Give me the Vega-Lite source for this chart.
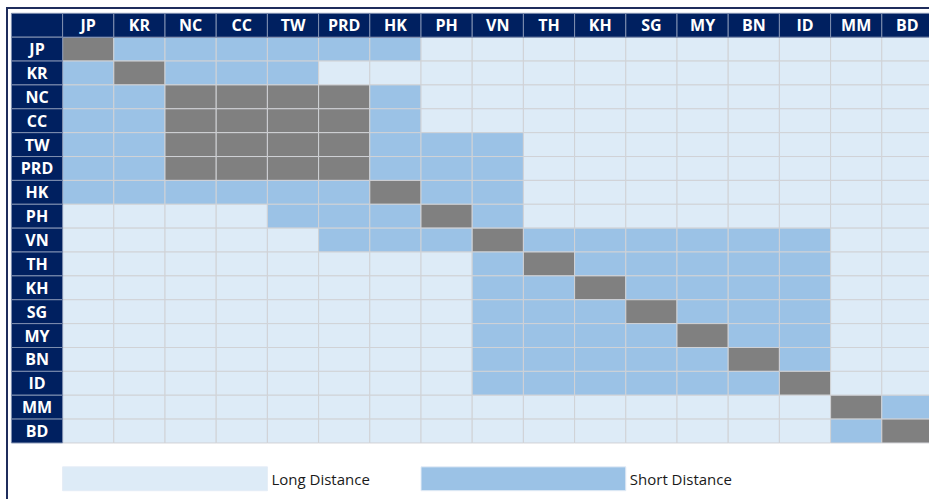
{
  "$schema": "https://vega.github.io/schema/vega-lite/v6.json",
  "width": 926,
  "height": 494,
  "autosize": {"type": "none"},
  "padding": {"left": 7, "top": 8, "right": -4, "bottom": -3},
  "background": "white",
  "config": {"view": {"stroke": "#1F2D5C", "strokeWidth": 2}},
  "datasets": {
    "headers": [
      {"row": "H", "col": "H", "label": ""},
      {"row": "H", "col": "JP", "label": "JP"},
      {"row": "H", "col": "KR", "label": "KR"},
      {"row": "H", "col": "NC", "label": "NC"},
      {"row": "H", "col": "CC", "label": "CC"},
      {"row": "H", "col": "TW", "label": "TW"},
      {"row": "H", "col": "PRD", "label": "PRD"},
      {"row": "H", "col": "HK", "label": "HK"},
      {"row": "H", "col": "PH", "label": "PH"},
      {"row": "H", "col": "VN", "label": "VN"},
      {"row": "H", "col": "TH", "label": "TH"},
      {"row": "H", "col": "KH", "label": "KH"},
      {"row": "H", "col": "SG", "label": "SG"},
      {"row": "H", "col": "MY", "label": "MY"},
      {"row": "H", "col": "BN", "label": "BN"},
      {"row": "H", "col": "ID", "label": "ID"},
      {"row": "H", "col": "MM", "label": "MM"},
      {"row": "H", "col": "BD", "label": "BD"},
      {"row": "JP", "col": "H", "label": "JP"},
      {"row": "KR", "col": "H", "label": "KR"},
      {"row": "NC", "col": "H", "label": "NC"},
      {"row": "CC", "col": "H", "label": "CC"},
      {"row": "TW", "col": "H", "label": "TW"},
      {"row": "PRD", "col": "H", "label": "PRD"},
      {"row": "HK", "col": "H", "label": "HK"},
      {"row": "PH", "col": "H", "label": "PH"},
      {"row": "VN", "col": "H", "label": "VN"},
      {"row": "TH", "col": "H", "label": "TH"},
      {"row": "KH", "col": "H", "label": "KH"},
      {"row": "SG", "col": "H", "label": "SG"},
      {"row": "MY", "col": "H", "label": "MY"},
      {"row": "BN", "col": "H", "label": "BN"},
      {"row": "ID", "col": "H", "label": "ID"},
      {"row": "MM", "col": "H", "label": "MM"},
      {"row": "BD", "col": "H", "label": "BD"}
    ],
    "legend": [
      {"label": "Long Distance", "type": "Long Distance", "start": "JP", "end": "TW", "row": "lg"},
      {"label": "Short Distance", "type": "Short Distance", "start": "PH", "end": "SG", "row": "lg"}
    ],
    "cells": [
      {"row":"JP","col":"JP","type":"Same"},{"row":"JP","col":"KR","type":"Short Distance"},{"row":"JP","col":"NC","type":"Short Distance"},{"row":"JP","col":"CC","type":"Short Distance"},{"row":"JP","col":"TW","type":"Short Distance"},{"row":"JP","col":"PRD","type":"Short Distance"},{"row":"JP","col":"HK","type":"Short Distance"},{"row":"JP","col":"PH","type":"Long Distance"},{"row":"JP","col":"VN","type":"Long Distance"},{"row":"JP","col":"TH","type":"Long Distance"},{"row":"JP","col":"KH","type":"Long Distance"},{"row":"JP","col":"SG","type":"Long Distance"},{"row":"JP","col":"MY","type":"Long Distance"},{"row":"JP","col":"BN","type":"Long Distance"},{"row":"JP","col":"ID","type":"Long Distance"},{"row":"JP","col":"MM","type":"Long Distance"},{"row":"JP","col":"BD","type":"Long Distance"},
      {"row":"KR","col":"JP","type":"Short Distance"},{"row":"KR","col":"KR","type":"Same"},{"row":"KR","col":"NC","type":"Short Distance"},{"row":"KR","col":"CC","type":"Short Distance"},{"row":"KR","col":"TW","type":"Short Distance"},{"row":"KR","col":"PRD","type":"Long Distance"},{"row":"KR","col":"HK","type":"Long Distance"},{"row":"KR","col":"PH","type":"Long Distance"},{"row":"KR","col":"VN","type":"Long Distance"},{"row":"KR","col":"TH","type":"Long Distance"},{"row":"KR","col":"KH","type":"Long Distance"},{"row":"KR","col":"SG","type":"Long Distance"},{"row":"KR","col":"MY","type":"Long Distance"},{"row":"KR","col":"BN","type":"Long Distance"},{"row":"KR","col":"ID","type":"Long Distance"},{"row":"KR","col":"MM","type":"Long Distance"},{"row":"KR","col":"BD","type":"Long Distance"},
      {"row":"NC","col":"JP","type":"Short Distance"},{"row":"NC","col":"KR","type":"Short Distance"},{"row":"NC","col":"NC","type":"Same"},{"row":"NC","col":"CC","type":"Same"},{"row":"NC","col":"TW","type":"Same"},{"row":"NC","col":"PRD","type":"Same"},{"row":"NC","col":"HK","type":"Short Distance"},{"row":"NC","col":"PH","type":"Long Distance"},{"row":"NC","col":"VN","type":"Long Distance"},{"row":"NC","col":"TH","type":"Long Distance"},{"row":"NC","col":"KH","type":"Long Distance"},{"row":"NC","col":"SG","type":"Long Distance"},{"row":"NC","col":"MY","type":"Long Distance"},{"row":"NC","col":"BN","type":"Long Distance"},{"row":"NC","col":"ID","type":"Long Distance"},{"row":"NC","col":"MM","type":"Long Distance"},{"row":"NC","col":"BD","type":"Long Distance"},
      {"row":"CC","col":"JP","type":"Short Distance"},{"row":"CC","col":"KR","type":"Short Distance"},{"row":"CC","col":"NC","type":"Same"},{"row":"CC","col":"CC","type":"Same"},{"row":"CC","col":"TW","type":"Same"},{"row":"CC","col":"PRD","type":"Same"},{"row":"CC","col":"HK","type":"Short Distance"},{"row":"CC","col":"PH","type":"Long Distance"},{"row":"CC","col":"VN","type":"Long Distance"},{"row":"CC","col":"TH","type":"Long Distance"},{"row":"CC","col":"KH","type":"Long Distance"},{"row":"CC","col":"SG","type":"Long Distance"},{"row":"CC","col":"MY","type":"Long Distance"},{"row":"CC","col":"BN","type":"Long Distance"},{"row":"CC","col":"ID","type":"Long Distance"},{"row":"CC","col":"MM","type":"Long Distance"},{"row":"CC","col":"BD","type":"Long Distance"},
      {"row":"TW","col":"JP","type":"Short Distance"},{"row":"TW","col":"KR","type":"Short Distance"},{"row":"TW","col":"NC","type":"Same"},{"row":"TW","col":"CC","type":"Same"},{"row":"TW","col":"TW","type":"Same"},{"row":"TW","col":"PRD","type":"Same"},{"row":"TW","col":"HK","type":"Short Distance"},{"row":"TW","col":"PH","type":"Short Distance"},{"row":"TW","col":"VN","type":"Short Distance"},{"row":"TW","col":"TH","type":"Long Distance"},{"row":"TW","col":"KH","type":"Long Distance"},{"row":"TW","col":"SG","type":"Long Distance"},{"row":"TW","col":"MY","type":"Long Distance"},{"row":"TW","col":"BN","type":"Long Distance"},{"row":"TW","col":"ID","type":"Long Distance"},{"row":"TW","col":"MM","type":"Long Distance"},{"row":"TW","col":"BD","type":"Long Distance"},
      {"row":"PRD","col":"JP","type":"Short Distance"},{"row":"PRD","col":"KR","type":"Short Distance"},{"row":"PRD","col":"NC","type":"Same"},{"row":"PRD","col":"CC","type":"Same"},{"row":"PRD","col":"TW","type":"Same"},{"row":"PRD","col":"PRD","type":"Same"},{"row":"PRD","col":"HK","type":"Short Distance"},{"row":"PRD","col":"PH","type":"Short Distance"},{"row":"PRD","col":"VN","type":"Short Distance"},{"row":"PRD","col":"TH","type":"Long Distance"},{"row":"PRD","col":"KH","type":"Long Distance"},{"row":"PRD","col":"SG","type":"Long Distance"},{"row":"PRD","col":"MY","type":"Long Distance"},{"row":"PRD","col":"BN","type":"Long Distance"},{"row":"PRD","col":"ID","type":"Long Distance"},{"row":"PRD","col":"MM","type":"Long Distance"},{"row":"PRD","col":"BD","type":"Long Distance"},
      {"row":"HK","col":"JP","type":"Short Distance"},{"row":"HK","col":"KR","type":"Short Distance"},{"row":"HK","col":"NC","type":"Short Distance"},{"row":"HK","col":"CC","type":"Short Distance"},{"row":"HK","col":"TW","type":"Short Distance"},{"row":"HK","col":"PRD","type":"Short Distance"},{"row":"HK","col":"HK","type":"Same"},{"row":"HK","col":"PH","type":"Short Distance"},{"row":"HK","col":"VN","type":"Short Distance"},{"row":"HK","col":"TH","type":"Long Distance"},{"row":"HK","col":"KH","type":"Long Distance"},{"row":"HK","col":"SG","type":"Long Distance"},{"row":"HK","col":"MY","type":"Long Distance"},{"row":"HK","col":"BN","type":"Long Distance"},{"row":"HK","col":"ID","type":"Long Distance"},{"row":"HK","col":"MM","type":"Long Distance"},{"row":"HK","col":"BD","type":"Long Distance"},
      {"row":"PH","col":"JP","type":"Long Distance"},{"row":"PH","col":"KR","type":"Long Distance"},{"row":"PH","col":"NC","type":"Long Distance"},{"row":"PH","col":"CC","type":"Long Distance"},{"row":"PH","col":"TW","type":"Short Distance"},{"row":"PH","col":"PRD","type":"Short Distance"},{"row":"PH","col":"HK","type":"Short Distance"},{"row":"PH","col":"PH","type":"Same"},{"row":"PH","col":"VN","type":"Short Distance"},{"row":"PH","col":"TH","type":"Long Distance"},{"row":"PH","col":"KH","type":"Long Distance"},{"row":"PH","col":"SG","type":"Long Distance"},{"row":"PH","col":"MY","type":"Long Distance"},{"row":"PH","col":"BN","type":"Long Distance"},{"row":"PH","col":"ID","type":"Long Distance"},{"row":"PH","col":"MM","type":"Long Distance"},{"row":"PH","col":"BD","type":"Long Distance"},
      {"row":"VN","col":"JP","type":"Long Distance"},{"row":"VN","col":"KR","type":"Long Distance"},{"row":"VN","col":"NC","type":"Long Distance"},{"row":"VN","col":"CC","type":"Long Distance"},{"row":"VN","col":"TW","type":"Long Distance"},{"row":"VN","col":"PRD","type":"Short Distance"},{"row":"VN","col":"HK","type":"Short Distance"},{"row":"VN","col":"PH","type":"Short Distance"},{"row":"VN","col":"VN","type":"Same"},{"row":"VN","col":"TH","type":"Short Distance"},{"row":"VN","col":"KH","type":"Short Distance"},{"row":"VN","col":"SG","type":"Short Distance"},{"row":"VN","col":"MY","type":"Short Distance"},{"row":"VN","col":"BN","type":"Short Distance"},{"row":"VN","col":"ID","type":"Short Distance"},{"row":"VN","col":"MM","type":"Long Distance"},{"row":"VN","col":"BD","type":"Long Distance"},
      {"row":"TH","col":"JP","type":"Long Distance"},{"row":"TH","col":"KR","type":"Long Distance"},{"row":"TH","col":"NC","type":"Long Distance"},{"row":"TH","col":"CC","type":"Long Distance"},{"row":"TH","col":"TW","type":"Long Distance"},{"row":"TH","col":"PRD","type":"Long Distance"},{"row":"TH","col":"HK","type":"Long Distance"},{"row":"TH","col":"PH","type":"Long Distance"},{"row":"TH","col":"VN","type":"Short Distance"},{"row":"TH","col":"TH","type":"Same"},{"row":"TH","col":"KH","type":"Short Distance"},{"row":"TH","col":"SG","type":"Short Distance"},{"row":"TH","col":"MY","type":"Short Distance"},{"row":"TH","col":"BN","type":"Short Distance"},{"row":"TH","col":"ID","type":"Short Distance"},{"row":"TH","col":"MM","type":"Long Distance"},{"row":"TH","col":"BD","type":"Long Distance"},
      {"row":"KH","col":"JP","type":"Long Distance"},{"row":"KH","col":"KR","type":"Long Distance"},{"row":"KH","col":"NC","type":"Long Distance"},{"row":"KH","col":"CC","type":"Long Distance"},{"row":"KH","col":"TW","type":"Long Distance"},{"row":"KH","col":"PRD","type":"Long Distance"},{"row":"KH","col":"HK","type":"Long Distance"},{"row":"KH","col":"PH","type":"Long Distance"},{"row":"KH","col":"VN","type":"Short Distance"},{"row":"KH","col":"TH","type":"Short Distance"},{"row":"KH","col":"KH","type":"Same"},{"row":"KH","col":"SG","type":"Short Distance"},{"row":"KH","col":"MY","type":"Short Distance"},{"row":"KH","col":"BN","type":"Short Distance"},{"row":"KH","col":"ID","type":"Short Distance"},{"row":"KH","col":"MM","type":"Long Distance"},{"row":"KH","col":"BD","type":"Long Distance"},
      {"row":"SG","col":"JP","type":"Long Distance"},{"row":"SG","col":"KR","type":"Long Distance"},{"row":"SG","col":"NC","type":"Long Distance"},{"row":"SG","col":"CC","type":"Long Distance"},{"row":"SG","col":"TW","type":"Long Distance"},{"row":"SG","col":"PRD","type":"Long Distance"},{"row":"SG","col":"HK","type":"Long Distance"},{"row":"SG","col":"PH","type":"Long Distance"},{"row":"SG","col":"VN","type":"Short Distance"},{"row":"SG","col":"TH","type":"Short Distance"},{"row":"SG","col":"KH","type":"Short Distance"},{"row":"SG","col":"SG","type":"Same"},{"row":"SG","col":"MY","type":"Short Distance"},{"row":"SG","col":"BN","type":"Short Distance"},{"row":"SG","col":"ID","type":"Short Distance"},{"row":"SG","col":"MM","type":"Long Distance"},{"row":"SG","col":"BD","type":"Long Distance"},
      {"row":"MY","col":"JP","type":"Long Distance"},{"row":"MY","col":"KR","type":"Long Distance"},{"row":"MY","col":"NC","type":"Long Distance"},{"row":"MY","col":"CC","type":"Long Distance"},{"row":"MY","col":"TW","type":"Long Distance"},{"row":"MY","col":"PRD","type":"Long Distance"},{"row":"MY","col":"HK","type":"Long Distance"},{"row":"MY","col":"PH","type":"Long Distance"},{"row":"MY","col":"VN","type":"Short Distance"},{"row":"MY","col":"TH","type":"Short Distance"},{"row":"MY","col":"KH","type":"Short Distance"},{"row":"MY","col":"SG","type":"Short Distance"},{"row":"MY","col":"MY","type":"Same"},{"row":"MY","col":"BN","type":"Short Distance"},{"row":"MY","col":"ID","type":"Short Distance"},{"row":"MY","col":"MM","type":"Long Distance"},{"row":"MY","col":"BD","type":"Long Distance"},
      {"row":"BN","col":"JP","type":"Long Distance"},{"row":"BN","col":"KR","type":"Long Distance"},{"row":"BN","col":"NC","type":"Long Distance"},{"row":"BN","col":"CC","type":"Long Distance"},{"row":"BN","col":"TW","type":"Long Distance"},{"row":"BN","col":"PRD","type":"Long Distance"},{"row":"BN","col":"HK","type":"Long Distance"},{"row":"BN","col":"PH","type":"Long Distance"},{"row":"BN","col":"VN","type":"Short Distance"},{"row":"BN","col":"TH","type":"Short Distance"},{"row":"BN","col":"KH","type":"Short Distance"},{"row":"BN","col":"SG","type":"Short Distance"},{"row":"BN","col":"MY","type":"Short Distance"},{"row":"BN","col":"BN","type":"Same"},{"row":"BN","col":"ID","type":"Short Distance"},{"row":"BN","col":"MM","type":"Long Distance"},{"row":"BN","col":"BD","type":"Long Distance"},
      {"row":"ID","col":"JP","type":"Long Distance"},{"row":"ID","col":"KR","type":"Long Distance"},{"row":"ID","col":"NC","type":"Long Distance"},{"row":"ID","col":"CC","type":"Long Distance"},{"row":"ID","col":"TW","type":"Long Distance"},{"row":"ID","col":"PRD","type":"Long Distance"},{"row":"ID","col":"HK","type":"Long Distance"},{"row":"ID","col":"PH","type":"Long Distance"},{"row":"ID","col":"VN","type":"Short Distance"},{"row":"ID","col":"TH","type":"Short Distance"},{"row":"ID","col":"KH","type":"Short Distance"},{"row":"ID","col":"SG","type":"Short Distance"},{"row":"ID","col":"MY","type":"Short Distance"},{"row":"ID","col":"BN","type":"Short Distance"},{"row":"ID","col":"ID","type":"Same"},{"row":"ID","col":"MM","type":"Long Distance"},{"row":"ID","col":"BD","type":"Long Distance"},
      {"row":"MM","col":"JP","type":"Long Distance"},{"row":"MM","col":"KR","type":"Long Distance"},{"row":"MM","col":"NC","type":"Long Distance"},{"row":"MM","col":"CC","type":"Long Distance"},{"row":"MM","col":"TW","type":"Long Distance"},{"row":"MM","col":"PRD","type":"Long Distance"},{"row":"MM","col":"HK","type":"Long Distance"},{"row":"MM","col":"PH","type":"Long Distance"},{"row":"MM","col":"VN","type":"Long Distance"},{"row":"MM","col":"TH","type":"Long Distance"},{"row":"MM","col":"KH","type":"Long Distance"},{"row":"MM","col":"SG","type":"Long Distance"},{"row":"MM","col":"MY","type":"Long Distance"},{"row":"MM","col":"BN","type":"Long Distance"},{"row":"MM","col":"ID","type":"Long Distance"},{"row":"MM","col":"MM","type":"Same"},{"row":"MM","col":"BD","type":"Short Distance"},
      {"row":"BD","col":"JP","type":"Long Distance"},{"row":"BD","col":"KR","type":"Long Distance"},{"row":"BD","col":"NC","type":"Long Distance"},{"row":"BD","col":"CC","type":"Long Distance"},{"row":"BD","col":"TW","type":"Long Distance"},{"row":"BD","col":"PRD","type":"Long Distance"},{"row":"BD","col":"HK","type":"Long Distance"},{"row":"BD","col":"PH","type":"Long Distance"},{"row":"BD","col":"VN","type":"Long Distance"},{"row":"BD","col":"TH","type":"Long Distance"},{"row":"BD","col":"KH","type":"Long Distance"},{"row":"BD","col":"SG","type":"Long Distance"},{"row":"BD","col":"MY","type":"Long Distance"},{"row":"BD","col":"BN","type":"Long Distance"},{"row":"BD","col":"ID","type":"Long Distance"},{"row":"BD","col":"MM","type":"Short Distance"},{"row":"BD","col":"BD","type":"Same"}
    ]
  },
  "resolve": {"scale": {"x": "shared", "y": "shared", "color": "shared"}},
  "layer": [
    {
      "data": {"name": "cells"},
      "mark": {"type": "rect", "stroke": "#D0D2D6", "strokeWidth": 1},
      "encoding": {
        "x": {"field": "col", "type": "nominal", "axis": null,
              "scale": {"domain": ["H","JP","KR","NC","CC","TW","PRD","HK","PH","VN","TH","KH","SG","MY","BN","ID","MM","BD"], "paddingInner": 0, "paddingOuter": 0.043, "align": 1}},
        "y": {"field": "row", "type": "nominal", "axis": null,
              "scale": {"domain": ["H","JP","KR","NC","CC","TW","PRD","HK","PH","VN","TH","KH","SG","MY","BN","ID","MM","BD","g","lg"], "paddingInner": 0, "paddingOuter": 0.348, "align": 0.32}},
        "color": {"field": "type", "type": "nominal", "legend": null,
                  "scale": {"domain": ["Long Distance","Short Distance","Same"], "range": ["#DDEBF7","#9BC2E6","#808080"]}}
      }
    },
    {
      "data": {"name": "headers"},
      "mark": {"type": "rect", "fill": "#002060", "stroke": "#7F8FB0", "strokeWidth": 1},
      "encoding": {
        "x": {"field": "col", "type": "nominal"},
        "y": {"field": "row", "type": "nominal"}
      }
    },
    {
      "data": {"name": "headers"},
      "mark": {"type": "text", "color": "white", "font": "Open Sans", "fontWeight": "bold", "fontSize": 16, "baseline": "middle", "align": "center", "dy": 1},
      "encoding": {
        "x": {"field": "col", "type": "nominal"},
        "y": {"field": "row", "type": "nominal"},
        "text": {"field": "label"}
      }
    },
    {
      "data": {"name": "legend"},
      "mark": {"type": "rect", "stroke": "#E4ECF6", "strokeWidth": 1},
      "encoding": {
        "x": {"field": "start", "type": "nominal", "bandPosition": 0},
        "x2": {"field": "end", "bandPosition": 0},
        "y": {"field": "row", "type": "nominal"},
        "color": {"field": "type", "type": "nominal"}
      }
    },
    {
      "data": {"name": "legend"},
      "mark": {"type": "text", "color": "#1A1A1A", "font": "Open Sans", "fontSize": 15, "baseline": "middle", "align": "left", "dx": 4, "dy": 1},
      "encoding": {
        "x": {"field": "end", "type": "nominal", "bandPosition": 0},
        "y": {"field": "row", "type": "nominal"},
        "text": {"field": "label"}
      }
    }
  ]
}
